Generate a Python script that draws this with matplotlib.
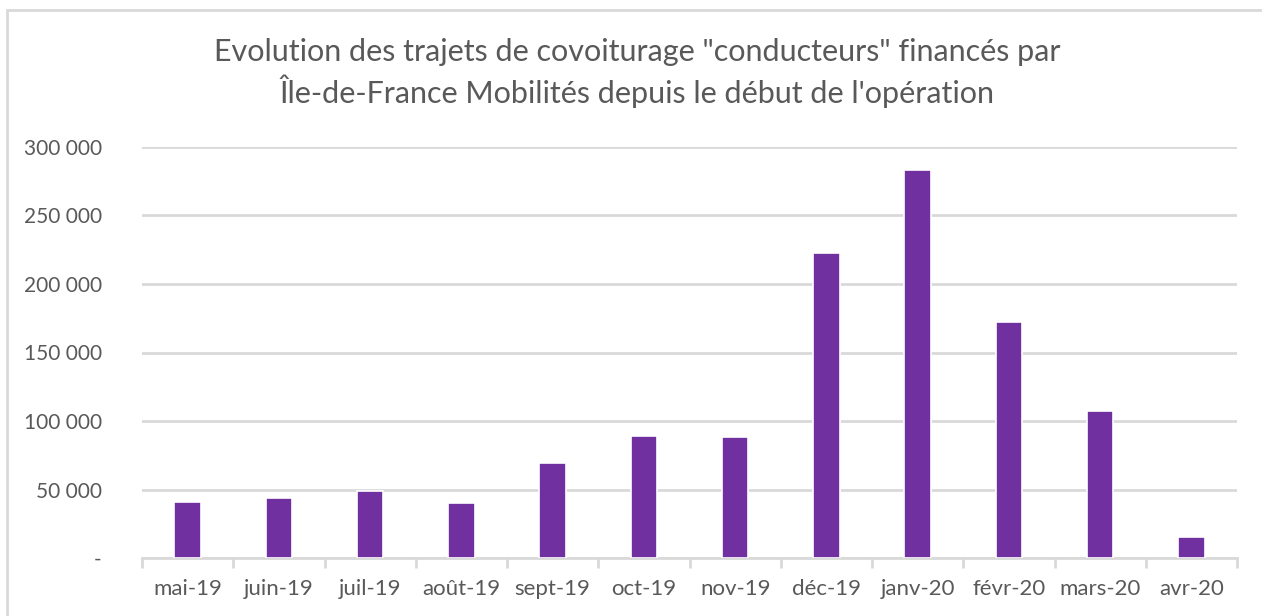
import numpy as np
import matplotlib.pyplot as plt
from matplotlib.patches import Rectangle
from matplotlib.ticker import FixedLocator

the_title = 'Evolution des trajets de covoiturage "conducteurs" financés par\nÎle-de-France Mobilités depuis le début de l\'opération'

months = ['mai-19', 'juin-19', 'juil-19', 'août-19', 'sept-19', 'oct-19',
          'nov-19', 'déc-19', 'janv-20', 'févr-20', 'mars-20', 'avr-20']
trips = [41000, 43800, 48900, 40200, 69300, 89000,
         88300, 222600, 283200, 172300, 107300, 15300]
y_ticks = [0, 50000, 100000, 150000, 200000, 250000, 300000]

def fmt_fr(v):
    if v == 0:
        return '-'
    return '{:,}'.format(v).replace(',', ' ')

plt.rcParams['font.family'] = ['Lato', 'DejaVu Sans']
txt_col = '#595959'
grid_col = '#d9d9d9'
bar_col = '#7030a0'

W, H = 1262, 616
fig = plt.figure(figsize=(W / 100, H / 100), dpi=100)
fig.patch.set_facecolor('white')

# chart frame (only top and left visible in the screenshot)
fig.patches.append(Rectangle((7 / W, -0.1), 1.2, (H - 10) / H + 0.1,
                             transform=fig.transFigure, fill=False,
                             edgecolor=grid_col, linewidth=2))

ax = fig.add_axes([142 / W, (H - 558) / H, (1237 - 142) / W, (558 - 147) / H])
x = np.arange(len(months))
ax.bar(x, trips, width=0.29, color=bar_col, edgecolor='white', linewidth=1.2, zorder=3)

ax.set_xlim(-0.5, len(months) - 0.5)
ax.set_ylim(0, 300000)
ax.set_yticks(y_ticks)
ax.set_yticklabels([fmt_fr(v) for v in y_ticks])
ax.yaxis.grid(True, color=grid_col, linewidth=2, zorder=0)
ax.set_axisbelow(True)

ax.set_xticks(x)
ax.set_xticklabels(months)
ax.xaxis.set_minor_locator(FixedLocator(np.arange(-0.5, len(months), 1)))
ax.tick_params(axis='x', which='major', length=0, pad=15, labelsize=16, colors=txt_col)
ax.tick_params(axis='x', which='minor', length=7, width=2, color=grid_col)
ax.tick_params(axis='y', length=0, pad=29, labelsize=15, colors=txt_col)

for s in ['top', 'right', 'left']:
    ax.spines[s].set_visible(False)
ax.spines['bottom'].set_color(grid_col)
ax.spines['bottom'].set_linewidth(2)

fig.text(0.505, (H - 73) / H, the_title, ha='center', va='center',
         fontsize=22, color=txt_col, linespacing=1.3)

fig.savefig('out.png', dpi=100)
